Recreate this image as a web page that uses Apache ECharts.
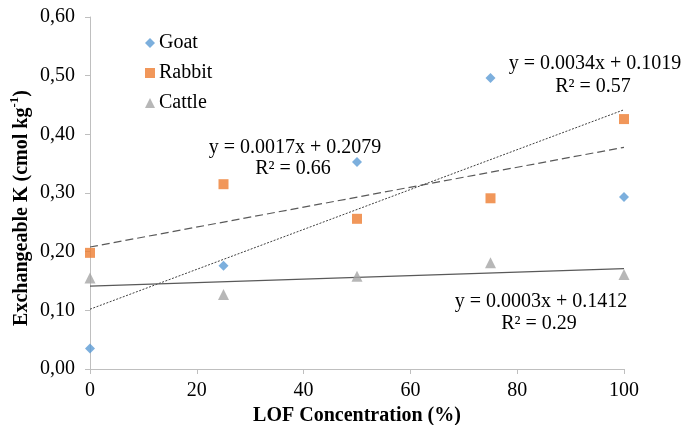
<!DOCTYPE html>
<html>
<head>
<meta charset="utf-8">
<script src="https://cdn.jsdelivr.net/npm/echarts@6/dist/echarts.min.js"></script>
<style>
    html, body { margin: 0; padding: 0; background: #fff; }
    #chart { width: 683px; height: 425px; }
</style>
</head>
<body>
<div id="chart"></div>
<script>
// LOF concentration (%)
const lof = [0, 25, 50, 75, 100];

// exchangeable K (cmol kg-1) per manure
const goat = [0.035, 0.176, 0.353, 0.496, 0.293];
const rabbit = [0.198, 0.315, 0.256, 0.291, 0.426];
const cattle = [0.155, 0.127, 0.158, 0.181, 0.161];

// trend lines as printed on the chart: slope, intercept
const goatFit = [0.0034, 0.1019];
const rabbitFit = [0.0017, 0.2079];
const cattleFit = [0.0003, 0.1412];

const goatEq = ['y = 0.0034x + 0.1019', 'R² = 0.57'];
const rabbitEq = ['y = 0.0017x + 0.2079', 'R² = 0.66'];
const cattleEq = ['y = 0.0003x + 0.1412', 'R² = 0.29'];

const serif = '"Liberation Serif", "Times New Roman", serif';

function pairs(ys) {
    return lof.map((x, i) => [x, ys[i]]);
}

function fitLine(fit) {
    return [[0, fit[1]], [100, fit[0] * 100 + fit[1]]];
}

function scatter(name, ys, symbol, size, color) {
    return {
        name: name,
        type: 'scatter',
        data: pairs(ys),
        symbol: symbol,
        symbolSize: size,
        itemStyle: {color: color},
        z: 3
    };
}

function trend(fit, lineType, color, width) {
    return {
        type: 'line',
        data: fitLine(fit),
        showSymbol: false,
        silent: true,
        lineStyle: {color: color, width: width, type: lineType},
        z: 2
    };
}

// equation label: two centred lines
function eqText(lines, x, y1, y2) {
    const st = {fontFamily: serif, fontSize: 20, fill: '#000', align: 'center', verticalAlign: 'middle'};
    return [
        {type: 'text', x: x, y: y1, style: Object.assign({text: lines[0]}, st)},
        {type: 'text', x: x - 2, y: y2, style: Object.assign({text: lines[1]}, st)}
    ];
}

const chart = echarts.init(document.getElementById('chart'));

const option = {
    animation: false,
    grid: {left: 90, right: 59, top: 17, bottom: 56, containLabel: false, outerBoundsMode: 'none'},
    legend: {
        orient: 'vertical',
        left: 140,
        top: 28,
        itemGap: 10,
        itemWidth: 10,
        itemHeight: 10,
        textStyle: {fontFamily: serif, fontSize: 20, color: '#000', padding: [0, 0, 0, -1]},
        data: [
            {name: 'Goat', icon: 'diamond', itemStyle: {color: '#5B9BD5'}},
            {name: 'Rabbit', icon: 'rect', itemStyle: {color: '#ED7D31'}},
            {name: 'Cattle', icon: 'triangle', itemStyle: {color: '#A5A5A5'}}
        ]
    },
    xAxis: {
        type: 'value',
        min: 0,
        max: 100,
        interval: 20,
        name: 'LOF Concentration (%)',
        nameLocation: 'middle',
        nameGap: 32,
        nameTextStyle: {fontFamily: serif, fontSize: 20, fontWeight: 'bold', color: '#000'},
        axisLine: {lineStyle: {color: '#bfbfbf', width: 1}},
        axisTick: {show: true, length: 5, lineStyle: {color: '#bfbfbf'}},
        axisLabel: {fontFamily: serif, fontSize: 20, color: '#000', margin: 12},
        splitLine: {show: false}
    },
    yAxis: {
        type: 'value',
        min: 0,
        max: 0.6,
        interval: 0.1,
        axisLine: {show: true, lineStyle: {color: '#bfbfbf', width: 1}},
        axisTick: {show: true, length: 5, lineStyle: {color: '#bfbfbf'}},
        axisLabel: {
            fontFamily: serif,
            fontSize: 20,
            color: '#000',
            margin: 15,
            formatter: v => v.toFixed(2).replace('.', ',')
        },
        splitLine: {show: false}
    },
    series: [
        trend(goatFit, [2, 1.5], '#404040', 1),
        trend(rabbitFit, [8, 4], '#595959', 1.2),
        trend(cattleFit, 'solid', '#595959', 1.3),
        scatter('Goat', goat, 'diamond', 10, '#5B9BD5'),
        scatter('Rabbit', rabbit, 'rect', 10, '#ED7D31'),
        scatter('Cattle', cattle, 'triangle', 11, '#A5A5A5')
    ],
    graphic: [
        {
            type: 'text',
            x: 20,
            y: 208,
            rotation: Math.PI / 2,
            style: {
                text: '{t|Exchangeable K (cmol kg}{s|-1}{t|)}',
                align: 'center',
                verticalAlign: 'middle',
                fill: '#000',
                rich: {
                    t: {fontFamily: serif, fontSize: 20, fontWeight: 'bold', lineHeight: 24, verticalAlign: 'bottom'},
                    s: {fontFamily: serif, fontSize: 13, fontWeight: 'bold', lineHeight: 24, verticalAlign: 'top'}
                }
            }
        }
    ].concat(
        eqText(goatEq, 595, 64, 87),
        eqText(rabbitEq, 295, 148, 169),
        eqText(cattleEq, 541, 302, 324)
    )
};

option && chart.setOption(option);
</script>
</body>
</html>
